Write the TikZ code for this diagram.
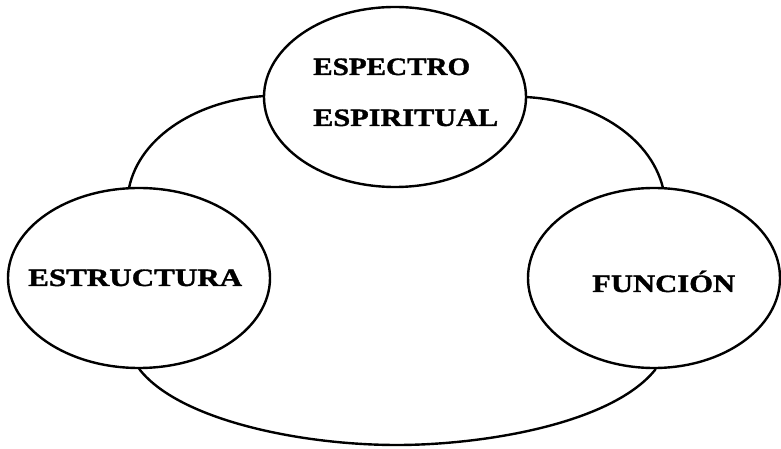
\documentclass[tikz,border=0pt]{standalone}
\usepackage{fontspec}
\setmainfont{Liberation Serif}
\newfontfamily\lblfont{Liberation Serif Bold}[FakeBold=1.2]
\usetikzlibrary{shapes.geometric}
\begin{document}
\begin{tikzpicture}[x=1bp,y=-1bp,
  bubble/.style={ellipse, draw, line width=2.4bp, fill=white, inner sep=0pt},
  lbl/.style={anchor=base west, inner sep=0pt, font=\lblfont\fontsize{25bp}{30bp}\selectfont},
  ring/.style={line width=2.4bp}]
\useasboundingbox[fill=white] (0,0) rectangle (781,449);
% large background ring
\draw[ring] (129,188) .. controls (140,135) and (200,100) .. (265,96)
  .. controls (330,90) and (460,90) .. (525,97)
  .. controls (590,100) and (650,135) .. (663,188)
  .. controls (680,260) and (670,330) .. (655,370)
  .. controls (610,425) and (480,445) .. (397,445)
  .. controls (300,445) and (180,420) .. (140,370)
  .. controls (110,320) and (115,230) .. (129,188) -- cycle;
% three bubbles
\node[bubble, minimum width=262bp, minimum height=180bp] (top) at (395,97) {};
\node[bubble, minimum width=262bp, minimum height=180bp] (left) at (139,278) {};
\node[bubble, minimum width=252bp, minimum height=180bp] (right) at (654,278) {};
% labels
\node[lbl] (t1) at (313,75) {\resizebox{157bp}{\height}{ESPECTRO}};
\node[lbl] (t2) at (313,126) {\resizebox{185bp}{\height}{ESPIRITUAL}};
\node[lbl] (l1) at (28,286) {\resizebox{214bp}{\height}{ESTRUCTURA}};
\node[lbl] (r1) at (592,292) {\resizebox{143bp}{\height}{FUNCIÓN}};
\end{tikzpicture}
\end{document}
